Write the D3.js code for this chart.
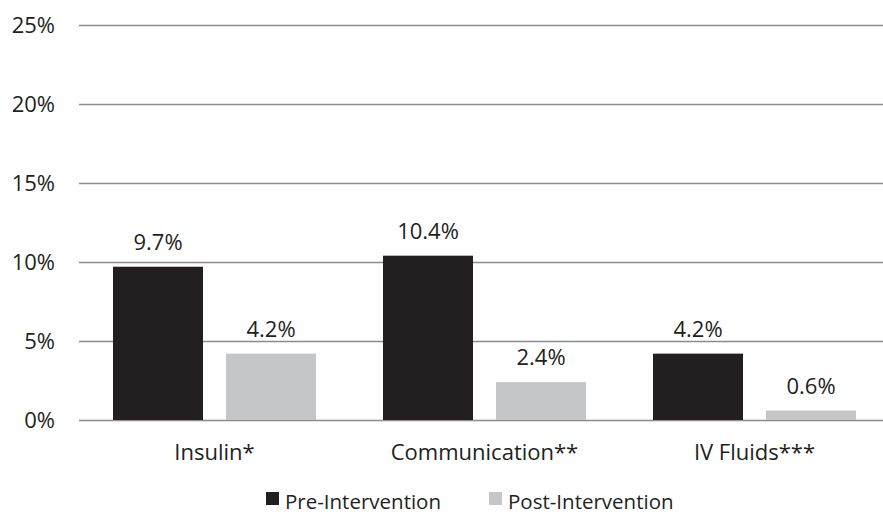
<!DOCTYPE html>
<html>
<head>
<meta charset="utf-8">
<script src="https://cdn.jsdelivr.net/npm/d3@7"></script>
<style>
  body { margin: 0; background: #fff; }
  svg text { font-family: "Open Sans", sans-serif; fill: #231f20; }
</style>
</head>
<body>
<svg id="chart" width="883" height="515"></svg>
<script>
var categories = ["Insulin*", "Communication**", "IV Fluids***"];
var seriesNames = ["Pre-Intervention", "Post-Intervention"];
var preValues = [9.7, 10.4, 4.2];
var postValues = [4.2, 2.4, 0.6];
var yTicks = [0, 5, 10, 15, 20, 25];

var colors = ["#231f20", "#c5c6c8"];
var fontSize = "22px";

var svg = d3.select("#chart");

var x = d3.scaleBand().domain(categories).range([79.5, 889.5]);
var inner = d3.scaleBand().domain([0, 1]).range([33.5, 236.5]).paddingInner(23 / 113);
var y = d3.scaleLinear().domain([0, 25]).range([420, 25]);

// gridlines + y labels
var yAxis = d3.axisLeft(y).tickValues(yTicks).tickSize(-(883 - 79)).tickFormat(function(d) { return d + "%"; });
var gy = svg.append("g").attr("transform", "translate(79,0)").call(yAxis);
gy.select(".domain").remove();
gy.selectAll(".tick line").attr("stroke", "#8c8c8c").attr("stroke-width", 1.3);
gy.selectAll(".tick text").attr("x", -24).attr("dy", "0.35em").style("font-size", fontSize).attr("fill", "#231f20");

var rows = categories.map(function(c, i) { return { cat: c, vals: [preValues[i], postValues[i]] }; });

var groups = svg.selectAll("g.cat").data(rows).enter().append("g")
  .attr("class", "cat")
  .attr("transform", function(d) { return "translate(" + x(d.cat) + ",0)"; });

groups.selectAll("rect").data(function(d) { return d.vals; }).enter().append("rect")
  .attr("x", function(d, i) { return inner(i); })
  .attr("width", inner.bandwidth())
  .attr("y", function(d) { return y(d); })
  .attr("height", function(d) { return y(0) - y(d); })
  .attr("fill", function(d, i) { return colors[i]; });

groups.selectAll("text.val").data(function(d) { return d.vals; }).enter().append("text")
  .attr("class", "val")
  .attr("x", function(d, i) { return inner(i) + inner.bandwidth() / 2; })
  .attr("y", function(d) { return y(d) - 17; })
  .attr("text-anchor", "middle")
  .style("font-size", fontSize)
  .text(function(d) { return d.toFixed(1) + "%"; });

// category labels
svg.selectAll("text.cat").data(categories).enter().append("text")
  .attr("class", "cat")
  .attr("x", function(d) { return x(d) + 135; })
  .attr("y", 460)
  .attr("text-anchor", "middle")
  .style("font-size", fontSize)
  .text(function(d) { return d; });

// legend
var legendX = [266, 489];
var lg = svg.selectAll("g.legend").data(seriesNames).enter().append("g")
  .attr("class", "legend")
  .attr("transform", function(d, i) { return "translate(" + legendX[i] + ",0)"; });
lg.append("rect").attr("x", 0).attr("y", 492).attr("width", 13).attr("height", 13)
  .attr("fill", function(d, i) { return colors[i]; });
lg.append("text").attr("x", 19).attr("y", 509).style("font-size", "20.5px")
  .text(function(d) { return d; });
</script>
</body>
</html>
